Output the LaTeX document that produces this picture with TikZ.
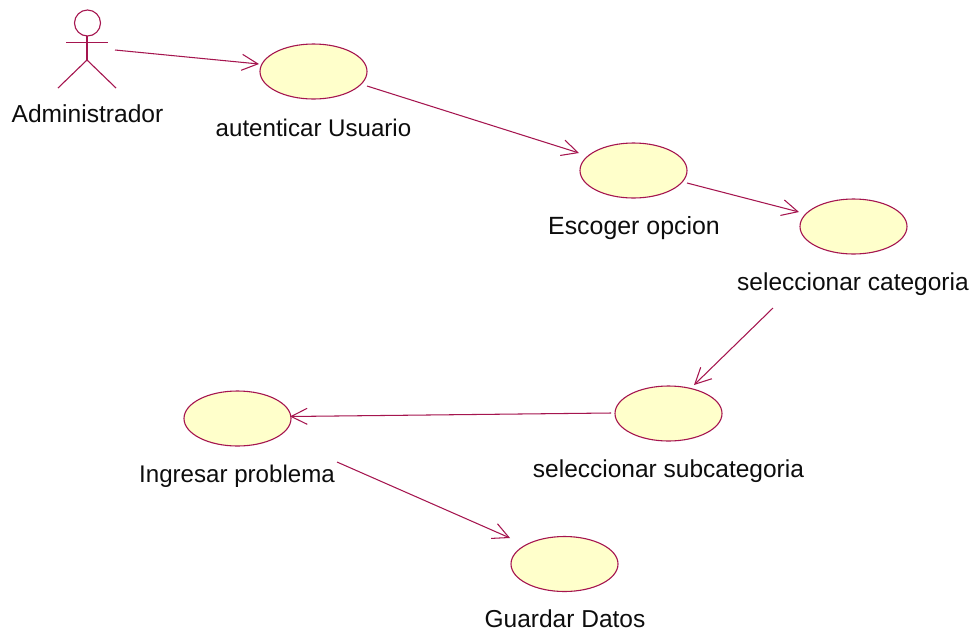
\documentclass[tikz,border=0pt]{standalone}
\usepackage{fontspec}
\setmainfont{Liberation Sans}
\usetikzlibrary{arrows.meta,shapes.geometric}
\definecolor{umlline}{HTML}{A5154F}
\definecolor{umlfill}{HTML}{FFFFCB}
\tikzset{
  usecase/.style={ellipse,draw=umlline,fill=umlfill,line width=1.1pt,minimum width=107pt,minimum height=55pt,inner sep=0pt,outer sep=0pt},
  lbl/.style={font=\fontsize{#1pt}{28pt}\selectfont,text=black!95,inner sep=0pt,anchor=base},
  lbl/.default=24.5,
  rel/.style={draw=umlline,line width=1.05pt,-{Straight Barb[length=16pt,width=16pt,line width=1.05pt]}},
  limb/.style={draw=umlline,line width=1.1pt}
}
\begin{document}
\begin{tikzpicture}[x=1pt,y=-1pt]
\useasboundingbox[fill=white] (0,0) rectangle (975,633);
% actor
\node[circle,draw=umlline,line width=1.1pt,minimum size=26pt,inner sep=0pt,outer sep=0pt] (head) at (87.5,23) {};
\coordinate (shL) at (66,42.5);
\coordinate (shR) at (108,42.5);
\coordinate (hip) at (87,60);
\coordinate (footL) at (58,88);
\coordinate (footR) at (116,88);
\draw[limb] (head.south) ++(-0.5,0) -- (hip);
\draw[limb] (shL) -- (shR);
\draw[limb] (footL) -- (hip) -- (footR);
% use cases
\node[usecase] (uc1) at (313.5,71.5) {};
\node[usecase] (uc2) at (633.5,170.5) {};
\node[usecase] (uc3) at (853.5,226.5) {};
\node[usecase] (uc4) at (668.5,413.5) {};
\node[usecase] (uc5) at (237.5,418.5) {};
\node[usecase] (uc6) at (564.5,564) {};
% labels
\node[lbl=24.6] (tA) at (87.5,122.5) {Administrador};
\node[lbl=24.1] (t1) at (313.5,136) {autenticar Usuario};
\node[lbl=24.9] (t2) at (634,234) {Escoger opcion};
\node[lbl=24.5] (t3) at (853,290) {seleccionar categoria};
\node[lbl=24.5] (t4) at (668.5,477) {seleccionar subcategoria};
\node[lbl=24.1] (t5) at (237,482) {Ingresar problema};
\node[lbl=24.5] (t6) at (565,627) {Guardar Datos};
% free ends
\coordinate (a0) at (115,50);
\coordinate (a1) at (259,64);
\coordinate (b0) at (367,86);
\coordinate (b1) at (579,153);
\coordinate (c0) at (687,183);
\coordinate (c1) at (799,212);
\coordinate (d0) at (773,308);
\coordinate (d1) at (694,385);
\coordinate (e0) at (611,413);
\coordinate (e1) at (290,416.5);
\coordinate (f0) at (337,462);
\coordinate (f1) at (510,538);
\draw[rel] (a0) -- (a1);
\draw[rel] (b0) -- (b1);
\draw[rel] (c0) -- (c1);
\draw[rel] (d0) -- (d1);
\draw[rel] (e0) -- (e1);
\draw[rel] (f0) -- (f1);
\end{tikzpicture}
\end{document}
